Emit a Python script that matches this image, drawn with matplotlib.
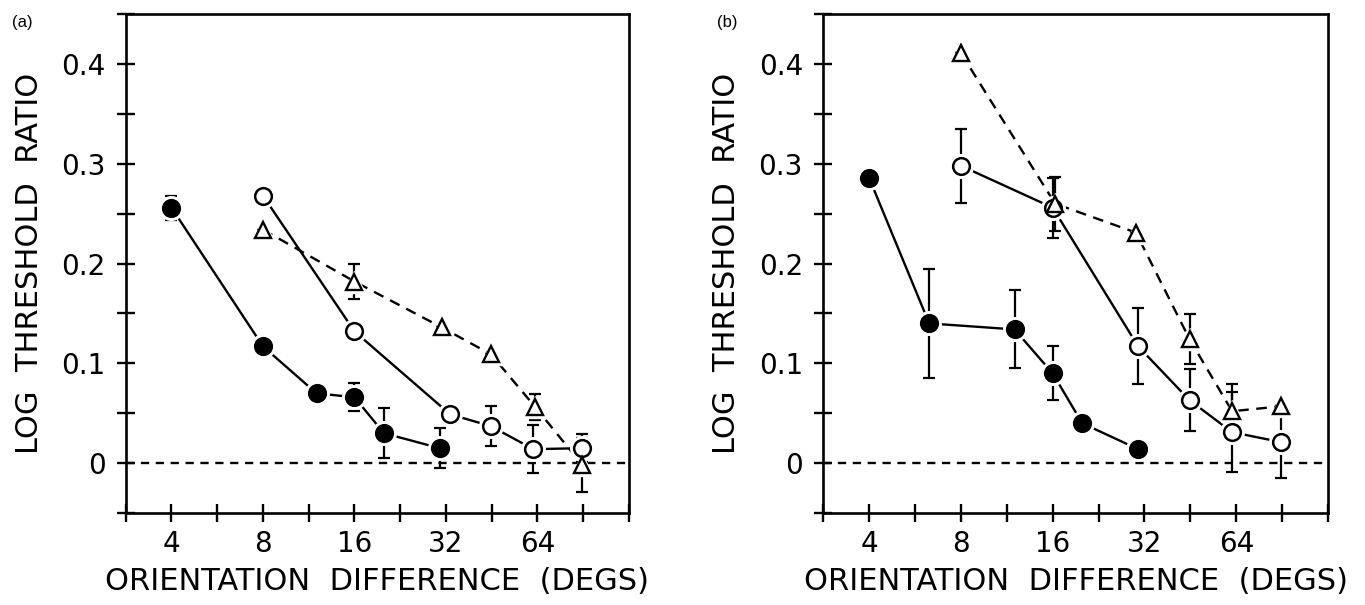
import matplotlib.pyplot as plt
import numpy as np

plt.switch_backend('agg')
plt.rcParams['font.family'] = ['DejaVu Sans']

# ---------------- data ----------------
# (a)
a_fill_x = [4, 8, 12, 16, 20, 30.5]
a_fill_y = [0.256, 0.117, 0.070, 0.066, 0.030, 0.015]
a_fill_err = [0.012, 0, 0, 0.014, 0.025, 0.020]

a_open_x = [8, 16, 33, 45, 62, 90]
a_open_y = [0.268, 0.132, 0.049, 0.037, 0.014, 0.015]
a_open_err = [0, 0, 0, 0.020, 0.024, 0.014]

a_tri_x = [8, 16, 31, 45, 63, 90]
a_tri_y = [0.234, 0.182, 0.136, 0.109, 0.056, -0.002]
a_tri_err = [0, 0.0175, 0, 0, 0.013, 0.027]

# (b)
b_fill_x = [4, 6.3, 12, 16, 20, 30.5]
b_fill_y = [0.286, 0.140, 0.134, 0.090, 0.040, 0.014]
b_fill_err = [0, 0.055, 0.039, 0.027, 0, 0]

b_open_x = [8, 16, 30.5, 45, 62, 90]
b_open_y = [0.298, 0.256, 0.117, 0.063, 0.031, 0.021]
b_open_err = [0.037, 0.030, 0.038, 0.031, 0.040, 0.036]

b_tri_x = [8, 16.3, 30, 45, 62, 90]
b_tri_y = [0.411, 0.260, 0.231, 0.124, 0.052, 0.057]
b_tri_err = [0, 0.027, 0, 0.025, 0.027, 0]

x_major = [4, 8, 16, 32, 64]
x_major_labels = ['4', '8', '16', '32', '64']
y_major = [0, 0.1, 0.2, 0.3, 0.4]
y_major_labels = ['0', '0.1', '0.2', '0.3', '0.4']

panels = [
    ('(a)', [(a_fill_x, a_fill_y, a_fill_err, 'fill'),
             (a_open_x, a_open_y, a_open_err, 'open'),
             (a_tri_x, a_tri_y, a_tri_err, 'tri')]),
    ('(b)', [(b_fill_x, b_fill_y, b_fill_err, 'fill'),
             (b_open_x, b_open_y, b_open_err, 'open'),
             (b_tri_x, b_tri_y, b_tri_err, 'tri')]),
]

fig = plt.figure(figsize=(13.65, 6.05), dpi=100)
ax_rects = [[0.0921, 0.152, 0.3687, 0.8248], [0.6030, 0.152, 0.3700, 0.8248]]
tag_x = [12 / 1365, 717 / 1365]

for k, (tag, series) in enumerate(panels):
    ax = fig.add_axes(ax_rects[k])
    ax.axhline(0, color='black', lw=1.7, ls=(0, (3.5, 2.8)), zorder=1)
    for xs, ys, es, kind in series:
        ls = '--' if kind == 'tri' else '-'
        ax.errorbar(xs, ys, yerr=es, fmt='none', ecolor='black', elinewidth=1.6,
                    capsize=4, capthick=1.6, zorder=2)
        line, = ax.plot(xs, ys, color='black', lw=1.7, ls=ls, zorder=2)
        if kind == 'tri':
            line.set_dashes((4.5, 3.2))
            ax.plot(xs, ys, '^', ms=16, mfc='white', mec='white', zorder=3)
            ax.plot(xs, ys, '^', ms=11, mfc='white', mec='black', mew=1.7, zorder=4)
        else:
            ax.plot(xs, ys, 'o', ms=17, mfc='white', mec='white', zorder=3)
            fc = 'black' if kind == 'fill' else 'white'
            ax.plot(xs, ys, 'o', ms=12, mfc=fc, mec='black', mew=1.8, zorder=4)

    ax.set_xscale('log', base=2)
    ax.set_xlim(2 ** 1.5, 2 ** 7)
    ax.set_ylim(-0.05, 0.45)
    ax.set_xticks(x_major)
    ax.set_xticklabels(x_major_labels)
    ax.set_xticks(2 ** np.arange(1.5, 7.01, 0.5), minor=True)
    ax.set_yticks(y_major)
    ax.set_yticklabels(y_major_labels)
    ax.set_yticks(np.arange(-0.05, 0.451, 0.05), minor=True)
    ax.xaxis.set_minor_formatter(plt.NullFormatter())
    ax.tick_params(which='both', direction='inout', length=13, width=1.7,
                   labelsize=20, top=False, right=False)
    ax.tick_params(axis='x', pad=6)
    ax.tick_params(axis='y', pad=8)
    for s in ax.spines.values():
        s.set_linewidth(1.9)

    ax.set_xlabel('ORIENTATION  DIFFERENCE  (DEGS)', fontsize=22)
    ax.xaxis.set_label_coords(0.5, -0.108)
    ax.set_ylabel('LOG  THRESHOLD  RATIO', fontsize=22)
    ax.yaxis.set_label_coords(-0.162, 0.5)

    fig.text(tag_x[k], 1 - 22 / 605, tag, fontsize=12, va='center', ha='left',
             family='Liberation Sans')

fig.savefig('out.png', dpi=100)
